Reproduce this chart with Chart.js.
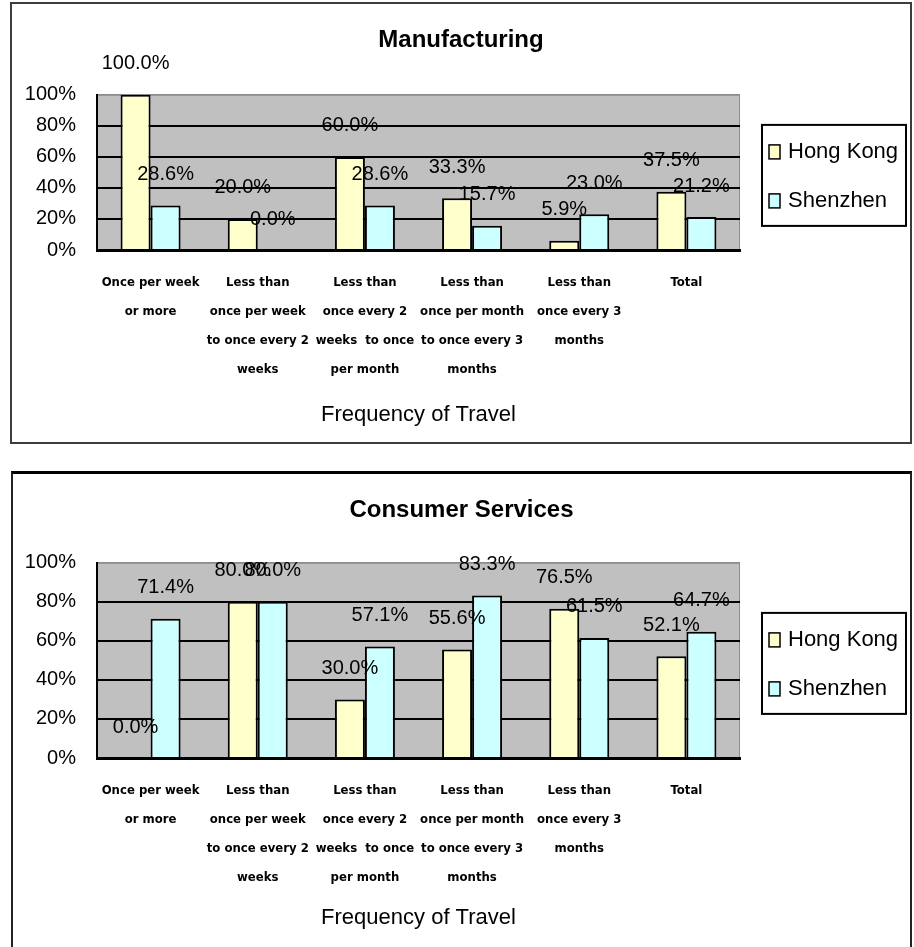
<!DOCTYPE html>
<html>
<head>
<meta charset="utf-8">
<script src="https://cdn.jsdelivr.net/npm/chart.js@4"></script>
<style>
  body { margin: 0; background: #fff; width: 914px; height: 947px; overflow: hidden; position: relative; }
  .panel { position: absolute; box-sizing: border-box; background: #fff; }
  #p1 { left: 10px; top: 2px; width: 902px; height: 442px; border: 2px solid #3c3c3c; }
  #p2 { left: 11px; top: 471px; width: 901px; height: 480px; border: 2px solid #222; border-top: 3px solid #000; }
  canvas { display: block; }
</style>
</head>
<body>
<div class="panel" id="p1"><canvas id="c1" width="898" height="438"></canvas></div>
<div class="panel" id="p2"><canvas id="c2" width="897" height="470"></canvas></div>
<script>
const categories = [
  ['Once per week', 'or more'],
  ['Less than', 'once per week', 'to once every 2', 'weeks'],
  ['Less than', 'once every 2', 'weeks  to once', 'per month'],
  ['Less than', 'once per month', 'to once every 3', 'months'],
  ['Less than', 'once every 3', 'months'],
  ['Total'],
];
const seriesNames = ['Hong Kong', 'Shenzhen'];
const manufacturingHK = [100.0, 20.0, 60.0, 33.3, 5.9, 37.5];
const manufacturingSZ = [28.6, 0.0, 28.6, 15.7, 23.0, 21.2];
const servicesHK = [0.0, 80.0, 30.0, 55.6, 76.5, 52.1];
const servicesSZ = [71.4, 80.0, 57.1, 83.3, 61.5, 64.7];
const yMax = 100;
const yStep = 20;
const xTitle = 'Frequency of Travel';

Chart.defaults.font.family = '"Liberation Sans", Arial, sans-serif';
Chart.defaults.color = '#000';

const plotBackground = {
  id: 'plotBackground',
  beforeDraw(chart) {
    const { ctx, chartArea: a } = chart;
    ctx.save();
    ctx.fillStyle = '#c0c0c0';
    ctx.fillRect(a.left, a.top, a.right - a.left, a.bottom - a.top);
    ctx.strokeStyle = '#8c8c8c';
    ctx.lineWidth = 1;
    ctx.strokeRect(a.left + 0.5, a.top + 0.5, a.right - a.left - 1, a.bottom - a.top);
    ctx.restore();
  },
};

// value labels sit a fixed distance above each bar top
const valueLabels = {
  id: 'valueLabels',
  afterDatasetsDraw(chart) {
    const { ctx } = chart;
    ctx.save();
    ctx.font = '20px "Liberation Sans", Arial, sans-serif';
    ctx.fillStyle = '#000';
    ctx.textAlign = 'center';
    ctx.textBaseline = 'middle';
    chart.data.datasets.forEach((ds, i) => {
      chart.getDatasetMeta(i).data.forEach((bar, j) => {
        ctx.fillText(`${ds.data[j].toFixed(1)}%`, bar.x, bar.y - 31);
      });
    });
    ctx.restore();
  },
};

// boxed legend to the right of the plot
const boxLegend = {
  id: 'boxLegend',
  afterDraw(chart) {
    const { ctx, chartArea: a } = chart;
    const left = a.right + 22;
    const w = 144;
    const h = 101;
    const top = (a.top + a.bottom) / 2 + 3 - h / 2;
    ctx.save();
    ctx.fillStyle = '#fff';
    ctx.fillRect(left, top, w, h);
    ctx.strokeStyle = '#000';
    ctx.lineWidth = 2;
    ctx.strokeRect(left, top, w, h);
    ctx.font = '22px "Liberation Sans", Arial, sans-serif';
    ctx.textBaseline = 'middle';
    ctx.textAlign = 'left';
    chart.data.datasets.forEach((ds, i) => {
      const cy = top + 27 + i * 49;
      ctx.fillStyle = ds.backgroundColor;
      ctx.fillRect(left + 7, cy - 7, 11, 14);
      ctx.strokeStyle = '#000';
      ctx.lineWidth = 1.5;
      ctx.strokeRect(left + 7, cy - 7, 11, 14);
      ctx.fillStyle = '#000';
      ctx.fillText(ds.label, left + 26, cy);
    });
    ctx.restore();
  },
};

const makeChart = (canvasId, title, hk, sz, layout) => new Chart(document.getElementById(canvasId), {
  type: 'bar',
  data: {
    labels: categories,
    datasets: [
      { label: seriesNames[0], data: hk, backgroundColor: '#ffffcc', borderColor: '#000', borderWidth: 2 },
      { label: seriesNames[1], data: sz, backgroundColor: '#ccffff', borderColor: '#000', borderWidth: 2 },
    ],
  },
  options: {
    responsive: false,
    animation: false,
    layout: { padding: 0 },
    datasets: { bar: { categoryPercentage: 0.56, barPercentage: 1 } },
    plugins: {
      legend: { display: false },
      tooltip: { enabled: false },
      title: {
        display: true,
        text: title,
        font: { size: 24, weight: 'bold' },
        padding: { top: 22, bottom: layout.titleBottom },
        color: '#000',
      },
    },
    scales: {
      x: {
        afterFit: (s) => { s.height = layout.xHeight; },
        grid: { display: false },
        border: { display: true, color: '#000', width: 3 },
        ticks: {
          autoSkip: false,
          maxRotation: 0,
          padding: 10,
          font: { family: '"DejaVu Sans Condensed", "DejaVu Sans", sans-serif', size: 13, weight: 'bold', lineHeight: 29 / 13 },
          color: '#000',
        },
        title: {
          display: true,
          text: xTitle,
          font: { size: 22 },
          padding: { top: 0, bottom: layout.xTitleBottom },
          color: '#000',
        },
      },
      y: {
        min: 0,
        max: yMax,
        afterFit: (s) => { s.width = layout.yWidth; },
        grid: {
          drawTicks: false,
          color: (c) => (c.tick && c.tick.value === yMax ? '#8c8c8c' : '#000'),
          lineWidth: (c) => (c.tick && c.tick.value === yMax ? 1 : 2),
        },
        border: { display: true, color: '#000', width: 2 },
        ticks: {
          stepSize: yStep,
          padding: 21,
          font: { size: 20 },
          color: '#000',
          callback: (v) => `${v}%`,
        },
      },
      // empty right-hand axis that only reserves room for the legend
      legendSpace: {
        type: 'linear',
        position: 'right',
        afterFit: (s) => { s.width = 170; },
        grid: { display: false },
        border: { display: false },
        ticks: { display: false },
      },
    },
  },
  plugins: [plotBackground, valueLabels, boxLegend],
});

makeChart('c1', 'Manufacturing', manufacturingHK, manufacturingSZ,
  { titleBottom: 40, xHeight: 192, xTitleBottom: 14, yWidth: 85 });
makeChart('c2', 'Consumer Services', servicesHK, servicesSZ,
  { titleBottom: 38, xHeight: 186, xTitleBottom: 13, yWidth: 84 });
</script>
</body>
</html>
